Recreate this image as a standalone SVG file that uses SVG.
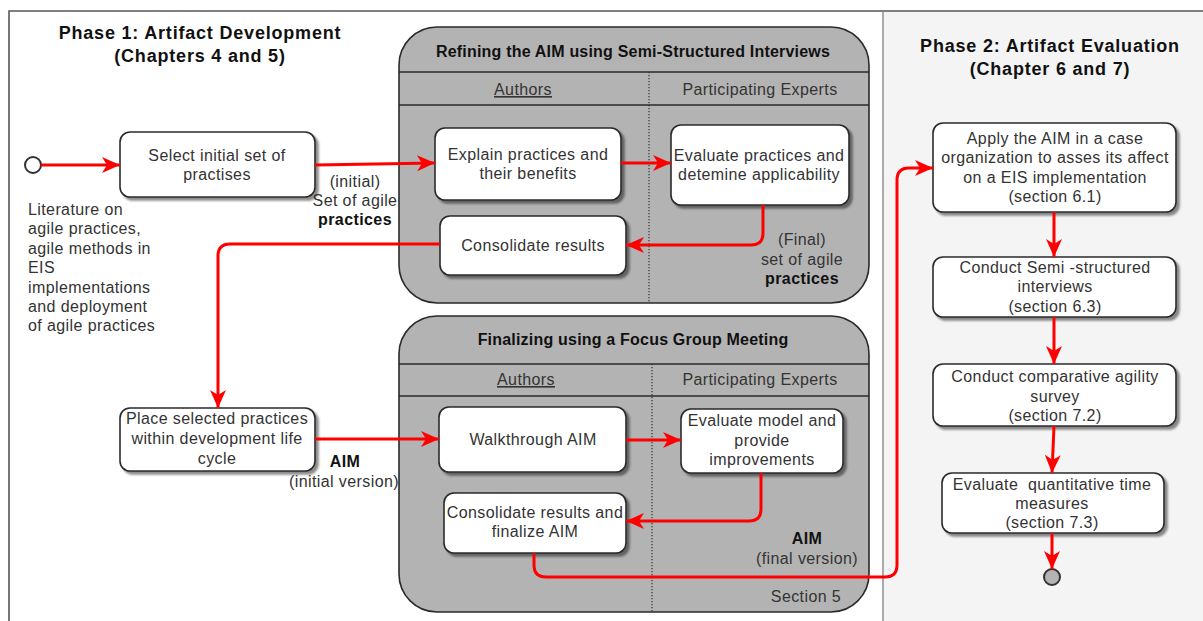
<svg xmlns="http://www.w3.org/2000/svg" width="1203" height="621" viewBox="0 0 1203 621">
<style>
.t{font-family:"Liberation Sans",Arial,sans-serif;font-size:16px;fill:#333;letter-spacing:0.4px;text-anchor:middle}
.l{text-anchor:start}
.b{font-weight:bold;fill:#111}
.ph{font-family:"Liberation Sans",Arial,sans-serif;font-size:18px;font-weight:bold;fill:#111;letter-spacing:0.8px;text-anchor:middle}
.ct{font-family:"Liberation Sans",Arial,sans-serif;font-size:16px;font-weight:bold;fill:#111;letter-spacing:0.2px;text-anchor:middle}
.u{text-decoration:underline}
.box{fill:#fff;stroke:#2a2a2a;stroke-width:1.6;filter:url(#sh)}
.cont{fill:#b3b3b3;stroke:#2a2a2a;stroke-width:1.6}
.hl{stroke:#2a2a2a;stroke-width:1.4;fill:none}
.dot{stroke:#333;stroke-width:1.2;stroke-dasharray:1.2 1.8;fill:none}
.c{fill:none;stroke:#f00;stroke-width:3;marker-end:url(#ah)}
</style>
<defs>
<filter id="sh" x="-10%" y="-10%" width="130%" height="140%">
<feDropShadow dx="3" dy="3" stdDeviation="1.2" flood-color="#000" flood-opacity="0.45"/>
</filter>
<marker id="ah" markerUnits="userSpaceOnUse" markerWidth="19" markerHeight="16" refX="18" refY="8" orient="auto" viewBox="0 0 19 16">
<path d="M0,0 L18,8 L0,16 L5,8 Z" fill="#f00"/>
</marker>
</defs>
<rect x="0" y="0" width="1203" height="621" fill="#fff"/>
<g id="frame">
<rect x="883" y="11" width="330" height="620" fill="#f4f4f4"/>
<path d="M9,631 L9,11 L1203,11" fill="none" stroke="#555" stroke-width="1.6"/>
<line x1="883" y1="11" x2="883" y2="621" stroke="#888" stroke-width="1.4"/>
</g>
<g id="phase1-title">
<text class="ph" x="200" y="39">Phase 1: Artifact Development</text>
<text class="ph" x="200" y="62">(Chapters 4 and 5)</text>
</g>
<g id="phase2-title">
<text class="ph" x="1050" y="52">Phase 2: Artifact Evaluation</text>
<text class="ph" x="1050" y="75">(Chapter 6 and 7)</text>
</g>
<g id="refining">
<rect class="cont" x="399" y="27" width="470" height="276" rx="38" ry="38"/>
<line class="hl" x1="399" y1="72" x2="869" y2="72"/>
<line class="hl" x1="399" y1="105" x2="869" y2="105"/>
<line class="dot" x1="649" y1="72" x2="649" y2="303"/>
<text class="ct" x="633" y="57">Refining the AIM using Semi-Structured Interviews</text>
<text class="t u" x="523" y="95">Authors</text>
<text class="t" x="760" y="95">Participating Experts</text>
</g>
<g id="finalizing">
<rect class="cont" x="399" y="316" width="470" height="296" rx="38" ry="38"/>
<line class="hl" x1="399" y1="364" x2="869" y2="364"/>
<line class="hl" x1="399" y1="396" x2="869" y2="396"/>
<line class="dot" x1="652" y1="364" x2="652" y2="612"/>
<text class="ct" x="633" y="345">Finalizing using a Focus Group Meeting</text>
<text class="t u" x="526" y="385">Authors</text>
<text class="t" x="760" y="385">Participating Experts</text>
<text class="t" x="806" y="602">Section 5</text>
</g>
<g id="start">
<circle cx="33" cy="165" r="8" fill="#fff" stroke="#333" stroke-width="2"/>
</g>
<g id="literature">
<text class="t l" x="28" y="215">Literature on</text>
<text class="t l" x="28" y="234">agile practices,</text>
<text class="t l" x="28" y="254">agile methods in</text>
<text class="t l" x="28" y="273">EIS</text>
<text class="t l" x="28" y="293">implementations</text>
<text class="t l" x="28" y="312">and deployment</text>
<text class="t l" x="28" y="331">of agile practices</text>
</g>
<g id="select">
<rect class="box" x="120" y="132" width="195" height="65" rx="10"/>
<text class="t" x="217" y="161">Select initial set of</text>
<text class="t" x="217" y="180">practises</text>
</g>
<g id="explain">
<rect class="box" x="435" y="128" width="186" height="72" rx="10"/>
<text class="t" x="528" y="160">Explain practices and</text>
<text class="t" x="528" y="179">their benefits</text>
</g>
<g id="evaluate-practices">
<rect class="box" x="671" y="125" width="178" height="80" rx="10"/>
<text class="t" x="759" y="161">Evaluate practices and</text>
<text class="t" x="759" y="180">detemine applicability</text>
</g>
<g id="consolidate">
<rect class="box" x="440" y="216" width="186" height="59" rx="10"/>
<text class="t" x="533" y="251">Consolidate results</text>
</g>
<g id="place">
<rect class="box" x="120" y="408" width="195" height="63" rx="10"/>
<text class="t" x="217" y="424">Place selected practices</text>
<text class="t" x="217" y="444">within development life</text>
<text class="t" x="217" y="464">cycle</text>
</g>
<g id="walkthrough">
<rect class="box" x="439" y="407" width="187" height="65" rx="10"/>
<text class="t" x="533" y="445">Walkthrough AIM</text>
</g>
<g id="evaluate-model">
<rect class="box" x="681" y="409" width="162" height="64" rx="10"/>
<text class="t" x="762" y="426">Evaluate model and</text>
<text class="t" x="762" y="446">provide</text>
<text class="t" x="762" y="465">improvements</text>
</g>
<g id="consolidate-finalize">
<rect class="box" x="444" y="493" width="182" height="60" rx="10"/>
<text class="t" x="535" y="518">Consolidate results and</text>
<text class="t" x="535" y="537">finalize AIM</text>
</g>
<g id="apply">
<rect class="box" x="933" y="123" width="243" height="89" rx="10"/>
<text class="t" x="1055" y="144">Apply the AIM in a case</text>
<text class="t" x="1055" y="163">organization to asses its affect</text>
<text class="t" x="1055" y="183">on a EIS implementation</text>
<text class="t" x="1055" y="202">(section 6.1)</text>
</g>
<g id="semi-structured">
<rect class="box" x="933" y="257" width="243" height="60" rx="10"/>
<text class="t" x="1055" y="273">Conduct Semi -structured</text>
<text class="t" x="1055" y="292">interviews</text>
<text class="t" x="1055" y="312">(section 6.3)</text>
</g>
<g id="comparative">
<rect class="box" x="933" y="364" width="243" height="62" rx="10"/>
<text class="t" x="1055" y="382">Conduct comparative agility</text>
<text class="t" x="1055" y="402">survey</text>
<text class="t" x="1055" y="421">(section 7.2)</text>
</g>
<g id="quantitative">
<rect class="box" x="942" y="473" width="222" height="60" rx="10"/>
<text class="t" x="1052" y="490" xml:space="preserve">Evaluate  quantitative time</text>
<text class="t" x="1052" y="509">measures</text>
<text class="t" x="1052" y="528">(section 7.3)</text>
</g>
<g id="end">
<circle cx="1052" cy="577" r="8" fill="#b3b3b3" stroke="#333" stroke-width="2"/>
</g>
<g id="connectors">
<path class="c" d="M41,165 L120,165"/>
<path class="c" d="M315,165 L435,163"/>
<path class="c" d="M621,163 L671,163"/>
<path class="c" d="M763,205 L763,233 Q763,245 751,245 L626,245"/>
<path class="c" d="M440,244 L230,244 Q218,244 218,256 L218,408"/>
<path class="c" d="M315,439 L439,439"/>
<path class="c" d="M626,440 L681,440"/>
<path class="c" d="M761,473 L761,509 Q761,521 749,521 L626,521"/>
<path class="c" d="M534,553 L534,565 Q534,577 546,577 L885,577 Q897,577 897,565 L897,180 Q897,168 909,168 L933,168"/>
<path class="c" d="M1054,212 L1054,257"/>
<path class="c" d="M1054,317 L1054,364"/>
<path class="c" d="M1054,426 L1052,473"/>
<path class="c" d="M1052,533 L1052,569"/>
</g>
<g id="labels">
<text class="t" x="355" y="187">(initial)</text>
<text class="t" x="355" y="206">Set of agile</text>
<text class="t b" x="355" y="225">practices</text>
<text class="t" x="802" y="245">(Final)</text>
<text class="t" x="802" y="265">set of agile</text>
<text class="t b" x="802" y="284">practices</text>
<text class="t b" x="345" y="467">AIM</text>
<text class="t" x="344" y="487">(initial version)</text>
<text class="t b" x="807" y="544">AIM</text>
<text class="t" x="807" y="564">(final version)</text>
</g>
</svg>
